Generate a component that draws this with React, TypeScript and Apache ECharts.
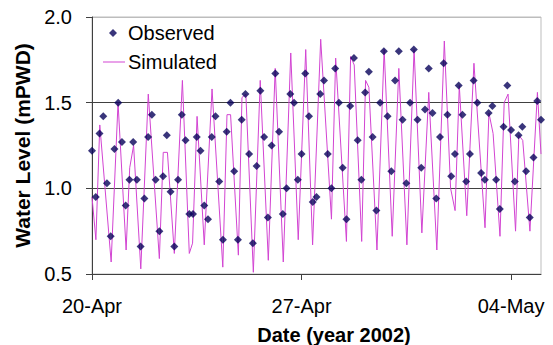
import React, { useEffect, useRef } from 'react';
import * as echarts from 'echarts';

// X axis: days since 20-Apr-2002
const TICK_DAYS = [0, 7, 14];
const TICK_LABELS = ['20-Apr', '27-Apr', '04-May'];
const X_MIN = 0;
const X_MAX = 15;
const Y_MIN = 0.5;
const Y_MAX = 2.0;
const Y_STEP = 0.5;

// Observed water level, 3-hourly from 20-Apr 00:00
const OBS_STEP_DAYS = 0.125;
const OBSERVED = [
  1.22, 0.95, 1.32, 1.42, 1.03, 0.72, 1.23, 1.5,
  1.27, 0.9, 1.05, 1.27, 1.05, 0.66, 0.94, 1.3,
  1.43, 1.05, 0.75, 1.07, 1.31, 0.98, 0.66, 1.05,
  1.43, 1.28, 0.85, 0.85, 1.3, 1.22, 0.9, 0.82,
  1.3, 1.42, 1.04, 0.7, 1.33, 1.5, 1.1, 0.7,
  1.4, 1.55, 1.2, 0.68, 1.13, 1.57, 1.3, 0.83,
  1.25, 1.67, 1.33, 0.85, 1.0, 1.55, 1.5, 1.05,
  1.2, 1.67, 1.42, 0.92, 0.95, 1.55, 1.63, 1.2,
  1.0, 1.7, 1.5, 1.12, 0.82, 1.48, 1.76, 1.28,
  1.05, 1.56, 1.68, 1.3, 0.87, 1.5, 1.8, 1.42,
  1.1, 1.63, 1.8, 1.4, 1.03, 1.5, 1.81, 1.4,
  1.12, 1.46, 1.7, 1.44, 0.94, 1.3, 1.73, 1.43,
  1.07, 1.2, 1.6, 1.43, 1.04, 1.2, 1.63, 1.5,
  1.09, 1.05, 1.44, 1.48, 1.05, 0.88, 1.36, 1.6,
  1.34, 1.04, 1.31, 1.36, 1.1, 0.83, 1.18, 1.51,
  1.4,
];

// Simulated water level (turning points)
const SIM_DAYS = [
  0.0, 0.13, 0.26, 0.64, 0.87, 1.14, 1.26, 1.39, 1.63, 1.88,
  2.25, 2.38, 2.52, 2.75, 3.02, 3.25, 3.36, 3.51, 3.75, 4.01,
  4.37, 4.51, 4.63, 4.89, 5.01, 5.14, 5.39, 5.62, 5.89, 6.12,
  6.39, 6.64, 6.89, 7.14, 7.37, 7.64, 8.0, 8.14, 8.5, 8.64,
  8.76, 9.01, 9.14, 9.25, 9.52, 9.76, 10.03, 10.25, 10.52, 10.76,
  11.02, 11.25, 11.52, 11.77, 11.98, 12.13, 12.27, 12.52, 12.76, 13.13,
  13.26, 13.4, 13.63, 13.77, 13.9, 14.15, 14.26, 14.39, 14.63, 14.88,
  15.0,
];
const SIM_LEVELS = [
  0.95, 0.7, 1.37, 0.57, 1.5, 0.64, 1.12, 1.25, 0.53, 1.55,
  0.59, 1.21, 1.21, 0.62, 1.63, 0.62, 0.68, 1.42, 0.67, 1.58,
  0.54, 1.43, 1.43, 0.61, 1.53, 1.55, 0.51, 1.63, 0.58, 1.7,
  0.57, 1.79, 0.7, 1.81, 0.67, 1.87, 0.82, 1.76, 0.69, 1.77,
  1.72, 0.69, 1.63, 1.59, 0.64, 1.81, 0.72, 1.7, 0.67, 1.81,
  0.74, 1.56, 0.64, 1.86, 1.0, 0.87, 1.6, 0.84, 1.73, 0.77,
  1.44, 1.32, 0.72, 1.5, 1.55, 0.75, 1.31, 1.28, 0.75, 1.56,
  1.2,
];

const FONT = "'Liberation Sans', Arial, Helvetica, sans-serif";
const AXIS_DARK = '#404040';
const OBS_COLOR = '#08025a';
const SIM_COLOR = '#d244d2';

export default function App() {
  const ref = useRef<HTMLDivElement>(null);

  useEffect(() => {
    if (!ref.current) return;
    const chart = echarts.init(ref.current, null, { renderer: 'svg' });
    chart.setOption({
      animation: false,
      backgroundColor: '#ffffff',
      grid: {
        left: 92,
        right: 12,
        top: 17,
        bottom: 71,
        show: true,
        borderColor: '#bdbdbd',
        borderWidth: 1,
        backgroundColor: 'transparent',
      },
      legend: [
        {
          data: ['Observed'],
          left: 109,
          top: 23,
          padding: 0,
          itemWidth: 8,
          itemHeight: 8,
          icon: 'diamond',
          itemStyle: { color: OBS_COLOR },
          textStyle: { fontFamily: FONT, fontSize: 20, color: '#000', padding: [0, 0, 0, 6] },
        },
        {
          data: ['Simulated'],
          left: 103,
          top: 52,
          padding: 0,
          itemWidth: 22,
          itemHeight: 1,
          icon: 'rect',
          itemStyle: { color: SIM_COLOR },
          textStyle: { fontFamily: FONT, fontSize: 20, color: '#000', padding: [0, 0, 0, -2] },
        },
      ],
      xAxis: {
        type: 'value',
        min: X_MIN,
        max: X_MAX,
        interval: 7,
        axisLine: { show: true, lineStyle: { color: AXIS_DARK, width: 1 } },
        axisTick: {
          show: true,
          length: 6,
          inside: false,
          customValues: TICK_DAYS,
          lineStyle: { color: AXIS_DARK },
        },
        axisLabel: {
          customValues: TICK_DAYS,
          margin: 22,
          fontFamily: FONT,
          fontSize: 20,
          color: '#000',
          formatter: (v: number) => {
            const i = TICK_DAYS.indexOf(v);
            return i >= 0 ? TICK_LABELS[i] : '';
          },
        },
        splitLine: { show: false },
      },
      yAxis: {
        type: 'value',
        min: Y_MIN,
        max: Y_MAX,
        interval: Y_STEP,
        name: 'Water Level (mPWD)',
        nameLocation: 'middle',
        nameGap: 58,
        nameTextStyle: { fontFamily: FONT, fontSize: 21, fontWeight: 'bold', color: '#000' },
        axisLine: { show: true, lineStyle: { color: AXIS_DARK, width: 1 } },
        axisTick: { show: true, length: 6, inside: false, lineStyle: { color: AXIS_DARK } },
        axisLabel: {
          margin: 20,
          fontFamily: FONT,
          fontSize: 20,
          color: '#000',
          formatter: (v: number) => v.toFixed(1),
        },
        splitLine: {
          show: true,
          lineStyle: { color: [AXIS_DARK, AXIS_DARK, AXIS_DARK, '#bdbdbd'], width: 1 },
        },
      },
      series: [
        {
          name: 'Simulated',
          type: 'line',
          data: SIM_DAYS.map((d, i) => [d, SIM_LEVELS[i]]),
          symbol: 'none',
          lineStyle: { color: SIM_COLOR, width: 1 },
          itemStyle: { color: SIM_COLOR },
          z: 2,
        },
        {
          name: 'Observed',
          type: 'scatter',
          data: OBSERVED.map((v, k) => [k * OBS_STEP_DAYS, v]),
          symbol: 'diamond',
          symbolSize: 8,
          itemStyle: { color: OBS_COLOR },
          z: 3,
        },
      ],
      graphic: [
        {
          type: 'text',
          x: 334,
          y: 335,
          style: {
            text: 'Date (year 2002)',
            fontFamily: FONT,
            fontSize: 20,
            fontWeight: 'bold',
            fill: '#000',
            align: 'center',
            verticalAlign: 'middle',
          },
        },
      ],
    });
    return () => chart.dispose();
  }, []);

  return (
    <div
      ref={ref}
      style={{ position: 'fixed', left: 0, top: 0, width: 553, height: 345 }}
    />
  );
}
